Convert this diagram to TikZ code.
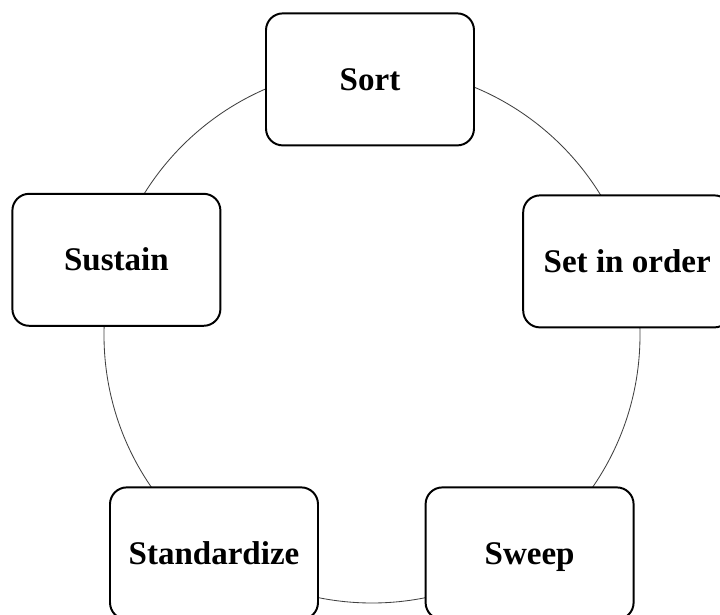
\documentclass[tikz,border=0pt]{standalone}
\usepackage{fontspec}
\setmainfont{Liberation Serif}
\tikzset{
  stage/.style={draw,line width=1.4pt,rounded corners=0.42cm,fill=white,
    minimum width=5.2cm,minimum height=3.3cm,text height=16pt,text depth=0.9pt,
    font=\fontsize{23.5}{28}\selectfont\bfseries}
}
\begin{document}
\begin{tikzpicture}
\useasboundingbox (0,0) rectangle (18,15.375);
\coordinate (hub) at (9.3,7.0);
\draw[line width=0.6pt,black!75] (hub) circle (6.7);

\node[stage] (sort) at (9.25,13.39) {Sort};
\node[stage] (order) at (15.68,8.84) {Set in order};
\node[stage] (sweep) at (13.24,1.54) {Sweep};
\node[stage] (standard) at (5.35,1.54) {Standardize};
\node[stage] (sustain) at (2.91,8.88) {Sustain};
\end{tikzpicture}
\end{document}
